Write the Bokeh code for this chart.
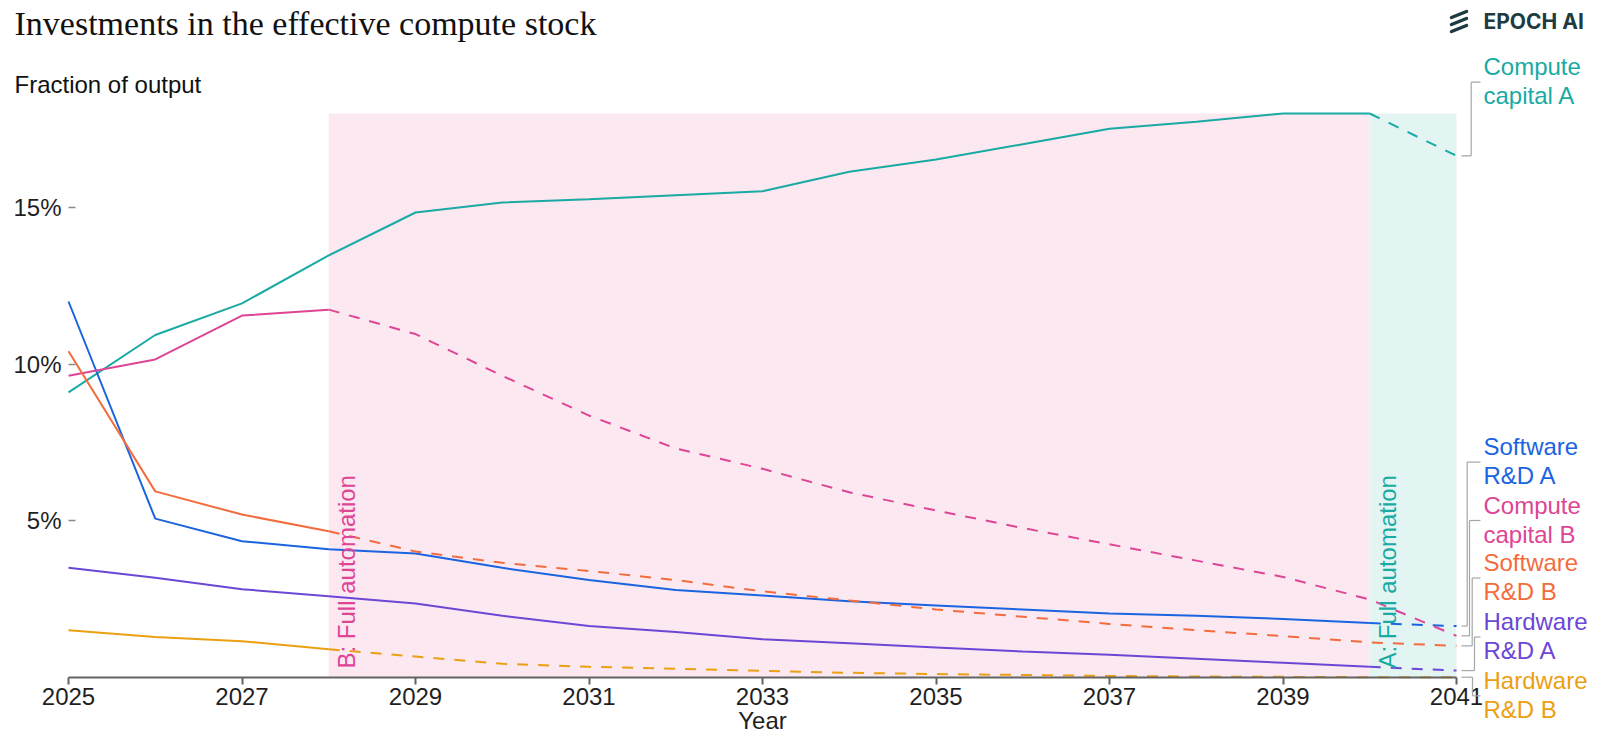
import math
from bokeh.plotting import figure
from bokeh.models import Range1d, BoxAnnotation, Label, Arrow, FixedTicker, PrintfTickFormatter
from bokeh.embed import file_html
from bokeh.resources import INLINE

# ---------------- data ----------------
years = list(range(2025, 2042))
compute_capital_a = [9.10, 10.93, 11.94, 13.47, 14.84, 15.16, 15.26, 15.39, 15.52, 16.14, 16.53, 17.02, 17.51, 17.74, 18.00, 18.00, 16.65]
compute_capital_b = [9.63, 10.15, 11.55, 11.74, 10.96, 9.63, 8.36, 7.31, 6.66, 5.91, 5.33, 4.77, 4.25, 3.73, 3.21, 2.49, 1.33]
software_rd_a = [12.00, 5.07, 4.35, 4.09, 3.96, 3.50, 3.11, 2.79, 2.62, 2.43, 2.30, 2.17, 2.04, 1.97, 1.87, 1.74, 1.64]
software_rd_b = [10.41, 5.94, 5.20, 4.67, 4.02, 3.66, 3.40, 3.11, 2.75, 2.46, 2.17, 1.94, 1.71, 1.51, 1.32, 1.12, 1.01]
hardware_rd_a = [3.50, 3.18, 2.82, 2.59, 2.36, 1.97, 1.64, 1.45, 1.22, 1.09, 0.96, 0.83, 0.73, 0.60, 0.47, 0.34, 0.22]
hardware_rd_b = [1.51, 1.29, 1.16, 0.90, 0.67, 0.44, 0.34, 0.28, 0.21, 0.15, 0.11, 0.08, 0.05, 0.03, 0.02, 0.01, 0.01]

automation_year_a = 2040
automation_year_b = 2028

x_ticks = [2025, 2027, 2029, 2031, 2033, 2035, 2037, 2039, 2041]
y_ticks = [5, 10, 15]

series_labels = [["Compute", "capital A"], ["Software", "R&D A"], ["Compute", "capital B"],
                 ["Software", "R&D B"], ["Hardware", "R&D A"], ["Hardware", "R&D B"]]
series_values = [compute_capital_a, software_rd_a, compute_capital_b, software_rd_b, hardware_rd_a, hardware_rd_b]
series_automation = [automation_year_a, automation_year_a, automation_year_b, automation_year_b, automation_year_a, automation_year_b]

# ---------------- style / layout (pixels) ----------------
colors = ["#19aaa3", "#1b64e0", "#de4595", "#f36c3d", "#6c47d6", "#eba012"]
label_mid_px = [81.7, 461.6, 520.0, 577.5, 636.5, 695.3]   # vertical centre of each end label
bracket_stem_px = [1470.7, 1466.7, 1469.0, 1471.7, 1474.0, 1472.0]

W, H = 1600, 735
X0, X1 = years[0], years[-1]
Y0, Y1 = 0, 18
PX_LEFT, PX_RIGHT = 68, 1456      # pixel columns of X0, X1
PX_BOTTOM, PX_TOP = 677, 113      # pixel rows of Y0, Y1
ppy = (PX_RIGHT - PX_LEFT) / (X1 - X0)
ppp = (PX_BOTTOM - PX_TOP) / (Y1 - Y0)


def px_x(px):
    return X0 + (px - PX_LEFT) / ppy


def px_y(py):
    return Y0 + (PX_BOTTOM - py) / ppp


SANS = "Liberation Sans"
TXT = "#1f1f1f"

p = figure(width=W, height=H,
           x_range=Range1d(px_x(0), px_x(W)), y_range=Range1d(px_y(H), px_y(0)),
           output_backend="svg", toolbar_location=None)
p.min_border_left = p.min_border_right = p.min_border_top = p.min_border_bottom = 0
p.title.visible = False
p.outline_line_color = None
p.grid.visible = False
p.background_fill_color = "white"
p.border_fill_color = "white"

# shaded automation periods
p.add_layout(BoxAnnotation(left=automation_year_b, right=automation_year_a, bottom=Y0, top=Y1,
                           fill_color="#fce8f1", fill_alpha=1, line_color=None, level="underlay"))
p.add_layout(BoxAnnotation(left=automation_year_a, right=X1, bottom=Y0, top=Y1,
                           fill_color="#e3f5f3", fill_alpha=1, line_color=None, level="underlay"))

# axes (fixed inside the canvas-wide frame)
xa = p.xaxis[0]
xa.fixed_location = Y0
xa.bounds = (X0, X1)
xa.ticker = FixedTicker(ticks=x_ticks)
xa.axis_line_color = "#636363"
xa.axis_line_width = 2
xa.major_tick_line_color = "#636363"
xa.major_tick_line_width = 2
xa.major_tick_out = 7
xa.major_tick_in = 0
xa.minor_tick_line_color = None
xa.major_label_standoff = 3
xa.major_label_text_font = SANS
xa.major_label_text_font_size = "24px"
xa.major_label_text_color = TXT

ya = p.yaxis[0]
ya.fixed_location = X0
ya.ticker = FixedTicker(ticks=y_ticks)
ya.formatter = PrintfTickFormatter(format="%d%%")
ya.axis_line_color = None
ya.major_tick_line_color = "#8a8a8a"
ya.major_tick_line_width = 1.5
ya.major_tick_in = 7
ya.major_tick_out = 0
ya.minor_tick_line_color = None
ya.major_label_standoff = 7
ya.major_label_text_font = SANS
ya.major_label_text_font_size = "24px"
ya.major_label_text_color = TXT

# lines
for vals, col, auto in zip(series_values, colors, series_automation):
    k = years.index(auto)
    p.line(years[:k + 1], vals[:k + 1], line_color=col, line_width=2)
    p.line(years[k:], vals[k:], line_color=col, line_width=2, line_dash="11 10")

# vertical automation labels
p.add_layout(Label(x=automation_year_b, y=Y0, x_offset=18, y_offset=9, angle=math.pi / 2,
                   text="B: Full automation", text_font=SANS, text_font_size="24px",
                   text_color=colors[2], text_baseline="middle", text_align="left"))
p.add_layout(Label(x=automation_year_a, y=Y0, x_offset=18, y_offset=9, angle=math.pi / 2,
                   text="A: Full automation", text_font=SANS, text_font_size="24px",
                   text_color=colors[0], text_baseline="middle", text_align="left"))

# end labels with brackets
for lines, vals, col, mid, stem in zip(series_labels, series_values, colors, label_mid_px, bracket_stem_px):
    end = vals[-1]
    segs = [(px_x(1461), end, px_x(stem), end),
            (px_x(stem), end, px_x(stem), px_y(mid)),
            (px_x(stem), px_y(mid), px_x(1480), px_y(mid))]
    for (xs, ys, xe, ye) in segs:
        p.add_layout(Arrow(start=None, end=None, x_start=xs, y_start=ys, x_end=xe, y_end=ye,
                           line_color="#a6a6a6", line_width=1.2))
    p.add_layout(Label(x=px_x(1483), y=px_y(mid - 15.3), text=lines[0], text_font=SANS,
                       text_font_size="24px", text_color=col, text_baseline="middle"))
    p.add_layout(Label(x=px_x(1483), y=px_y(mid + 13.5), text=lines[1], text_font=SANS,
                       text_font_size="24px", text_color=col, text_baseline="middle"))

# titles
p.add_layout(Label(x=px_x(14), y=px_y(23), text="Investments in the effective compute stock",
                   text_font="Liberation Serif", text_font_size="34px", text_color="#111111",
                   text_baseline="middle", text_align="left"))
p.add_layout(Label(x=px_x(14), y=px_y(84), text="Fraction of output",
                   text_font=SANS, text_font_size="24px", text_color="#111111",
                   text_baseline="middle", text_align="left"))
p.add_layout(Label(x=(X0 + X1) / 2, y=px_y(720), text="Year", text_font=SANS,
                   text_font_size="24px", text_color=TXT, text_baseline="middle", text_align="center"))

# logo
LOGO = "#1d3b40"
for yy in [14.0, 21.0, 28.0]:
    p.add_layout(Arrow(start=None, end=None,
                       x_start=px_x(1451), y_start=px_y(yy + 3), x_end=px_x(1466), y_end=px_y(yy - 3),
                       line_color=LOGO, line_width=3.5, line_cap="round"))
p.add_layout(Label(x=px_x(1483), y=px_y(20.8), text="EPOCH AI", text_font="Inter",
                   text_font_size="21px", text_font_style="bold", text_color=LOGO, text_baseline="middle"))

open("out.html", "w").write(file_html(p, INLINE))
